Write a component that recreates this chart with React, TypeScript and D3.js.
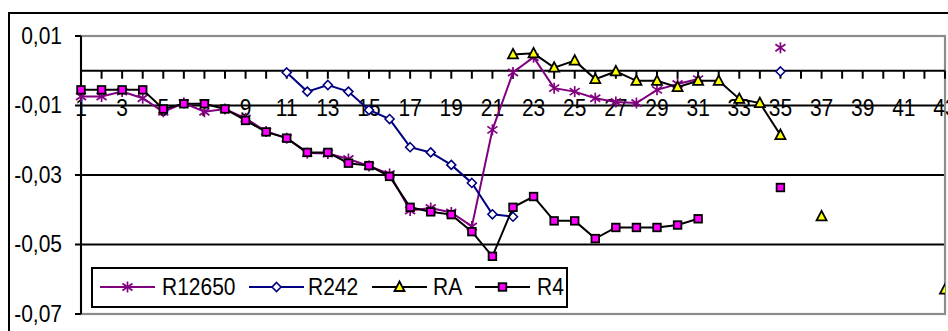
import React from "react";
import * as d3 from "d3";

// Category numbers along the x axis
const categories: number[] = [
  1, 2, 3, 4, 5, 6, 7, 8, 9, 10, 11, 12, 13, 14, 15, 16, 17, 18, 19, 20, 21,
  22, 23, 24, 25, 26, 27, 28, 29, 30, 31, 32, 33, 34, 35, 36, 37, 38, 39, 40,
  41, 42, 43,
];

// Every second category carries a label
const xTickLabels: number[] = [
  1, 3, 5, 7, 9, 11, 13, 15, 17, 19, 21, 23, 25, 27, 29, 31, 33, 35, 37, 39, 41, 43,
];

const yTicks: number[] = [0.01, -0.01, -0.03, -0.05, -0.07];

type V = number | null;

const r12650: V[] = [
  -0.0074, -0.0074, -0.006, -0.0079, -0.0118, -0.0093, -0.0118, -0.011, -0.0137,
  -0.0175, -0.0194, -0.0237, -0.0238, -0.0254, -0.0274, -0.0297, -0.0402,
  -0.0395, -0.0408, -0.0448, -0.017, -0.0005, 0.0039, -0.005, -0.006, -0.0079,
  -0.009, -0.0093, -0.0055, -0.0038, -0.0024, null, null, null, 0.0066, null,
  null, null, null, null, null, null, null,
];

const r242: V[] = [
  null, null, null, null, null, null, null, null, null, null, -0.0005, -0.006,
  -0.0041, -0.006, -0.0113, -0.0139, -0.022, -0.0235, -0.0271, -0.0323, -0.0413,
  -0.042, null, null, null, null, null, null, null, null, null, null, null, null,
  -0.0002, null, null, null, null, null, null, null, null,
];

const ra: V[] = [
  null, null, null, null, null, null, null, null, null, null, null, null, null,
  null, null, null, null, null, null, null, null, 0.0047, 0.005, 0.0009, 0.0029,
  -0.0024, -0.0002, -0.0029, -0.0029, -0.0047, -0.0029, -0.0029, -0.0081,
  -0.0093, -0.0185, null, -0.0419, null, null, null, null, null, -0.063,
];

const r4: V[] = [
  -0.0055, -0.0055, -0.0055, -0.0055, -0.011, -0.0095, -0.0095, -0.011, -0.0143,
  -0.0176, -0.0194, -0.0235, -0.0235, -0.0266, -0.0273, -0.0304, -0.0393,
  -0.0406, -0.0414, -0.0463, -0.0534, -0.0393, -0.0362, -0.0432, -0.0432,
  -0.0483, -0.0451, -0.0451, -0.0451, -0.0444, -0.0426, null, null, null,
  -0.0336, null, null, null, null, null, null, null, null,
];

type MarkerKind = "star" | "diamond" | "triangle" | "square";

const series: { name: string; values: V[]; line: string; marker: MarkerKind }[] = [
  { name: "R12650", values: r12650, line: "#800080", marker: "star" },
  { name: "R242", values: r242, line: "#000080", marker: "diamond" },
  { name: "RA", values: ra, line: "#000000", marker: "triangle" },
  { name: "R4", values: r4, line: "#000000", marker: "square" },
];

const W = 948;
const H = 331;
const plot = { left: 81, right: 945, top: 36, bottom: 314 };
const FONT = "'Liberation Sans', Arial, sans-serif";
const FS = 21;
const STRETCH = 1.12;

const x = d3.scaleLinear().domain([1, 43]).range([plot.left, plot.right]);
const y = d3.scaleLinear().domain([-0.07, 0.01]).range([plot.bottom, plot.top]);

function Label({
  tx,
  ty,
  anchor,
  central,
  children,
}: {
  tx: number;
  ty: number;
  anchor: "start" | "middle" | "end";
  central?: boolean;
  children: React.ReactNode;
}) {
  return (
    <text
      transform={`translate(${tx},${ty}) scale(1,${STRETCH})`}
      textAnchor={anchor}
      dominantBaseline={central ? "central" : "auto"}
      fontSize={FS}
      fill="#000"
    >
      {children}
    </text>
  );
}

function Marker({ kind, cx, cy }: { kind: MarkerKind; cx: number; cy: number }) {
  switch (kind) {
    case "star": {
      const r = 5.5;
      const d = 5;
      return (
        <g stroke="#800080" strokeWidth={1.7} transform={`translate(${cx},${cy})`}>
          <line x1={0} y1={-r} x2={0} y2={r} />
          <line x1={-d} y1={-d * 0.7} x2={d} y2={d * 0.7} />
          <line x1={-d} y1={d * 0.7} x2={d} y2={-d * 0.7} />
        </g>
      );
    }
    case "diamond":
      return (
        <path
          d={`M${cx},${cy - 4.5}L${cx + 4.5},${cy}L${cx},${cy + 4.5}L${cx - 4.5},${cy}Z`}
          fill="#ffffff"
          stroke="#000080"
          strokeWidth={1.6}
        />
      );
    case "triangle":
      return (
        <path
          d={`M${cx},${cy - 5.5}L${cx + 5},${cy + 4}L${cx - 5},${cy + 4}Z`}
          fill="#ffff00"
          stroke="#000000"
          strokeWidth={1.8}
          strokeLinejoin="miter"
        />
      );
    case "square":
      return (
        <rect
          x={cx - 3.8}
          y={cy - 3.8}
          width={7.6}
          height={7.6}
          fill="#ff00ff"
          stroke="#000000"
          strokeWidth={1.8}
        />
      );
  }
}

export default function App() {
  const lineGen = d3
    .line<V>()
    .defined((d) => d !== null)
    .x((_, i) => x(categories[i]))
    .y((d) => y(d as number));

  const legendItems = [
    { lx: 100, tx: 162 },
    { lx: 249, tx: 308 },
    { lx: 372, tx: 433 },
    { lx: 475, tx: 537 },
  ];
  const legendY = 287;

  return (
    <svg
      width={W}
      height={H}
      viewBox={`0 0 ${W} ${H}`}
      style={{ position: "absolute", left: 0, top: 0, background: "#ffffff" }}
      fontFamily={FONT}
    >
      <defs>
        <clipPath id="plotClip">
          <rect
            x={plot.left - 6}
            y={plot.top - 10}
            width={plot.right - plot.left + 6}
            height={plot.bottom - plot.top + 20}
          />
        </clipPath>
      </defs>

      {/* chart frame */}
      <rect x={9} y={13} width={W} height={H} fill="#ffffff" stroke="#000000" strokeWidth={2} />

      {/* horizontal gridlines */}
      {yTicks.map((t) => (
        <line
          key={`g${t}`}
          x1={plot.left}
          x2={plot.right}
          y1={y(t)}
          y2={y(t)}
          stroke="#000000"
          strokeWidth={2}
        />
      ))}

      {/* plot area border */}
      <rect
        x={plot.left}
        y={plot.top}
        width={plot.right - plot.left}
        height={plot.bottom - plot.top}
        fill="none"
        stroke="#8c8c8c"
        strokeWidth={2.2}
      />

      {/* y axis */}
      <line x1={plot.left} x2={plot.left} y1={plot.top} y2={plot.bottom} stroke="#000" strokeWidth={2} />
      {yTicks.map((t) => (
        <g key={`yt${t}`}>
          <line x1={plot.left - 6} x2={plot.left} y1={y(t)} y2={y(t)} stroke="#000" strokeWidth={2} />
          <Label tx={62} ty={y(t)} anchor="end" central>
            {d3.format(".2f")(t).replace("−", "-").replace(".", ",")}
          </Label>
        </g>
      ))}

      {/* x axis at zero */}
      <line x1={plot.left} x2={plot.right} y1={y(0)} y2={y(0)} stroke="#000" strokeWidth={2} />
      {categories.map((c) => (
        <line
          key={`xt${c}`}
          x1={x(c)}
          x2={x(c)}
          y1={y(0)}
          y2={y(0) + 8}
          stroke="#000"
          strokeWidth={2}
        />
      ))}
      {xTickLabels.map((c) => (
        <Label key={`xl${c}`} tx={x(c)} ty={116} anchor="middle">
          {c}
        </Label>
      ))}

      {/* series */}
      <g clipPath="url(#plotClip)">
        {series.map((s) => (
          <g key={s.name}>
            <path d={lineGen(s.values) ?? ""} fill="none" stroke={s.line} strokeWidth={2} />
            {s.values.map((v, i) =>
              v === null ? null : (
                <Marker key={i} kind={s.marker} cx={x(categories[i])} cy={y(v)} />
              )
            )}
          </g>
        ))}
      </g>

      {/* legend */}
      <rect x={92} y={268} width={475} height={39} fill="#ffffff" stroke="#000" strokeWidth={2} />
      {series.map((s, i) => {
        const it = legendItems[i];
        return (
          <g key={`lg${s.name}`}>
            <line x1={it.lx} x2={it.lx + 55} y1={legendY} y2={legendY} stroke={s.line} strokeWidth={2} />
            <Marker kind={s.marker} cx={it.lx + 27.5} cy={legendY} />
            <Label tx={it.tx} ty={legendY} anchor="start" central>
              {s.name}
            </Label>
          </g>
        );
      })}
    </svg>
  );
}
